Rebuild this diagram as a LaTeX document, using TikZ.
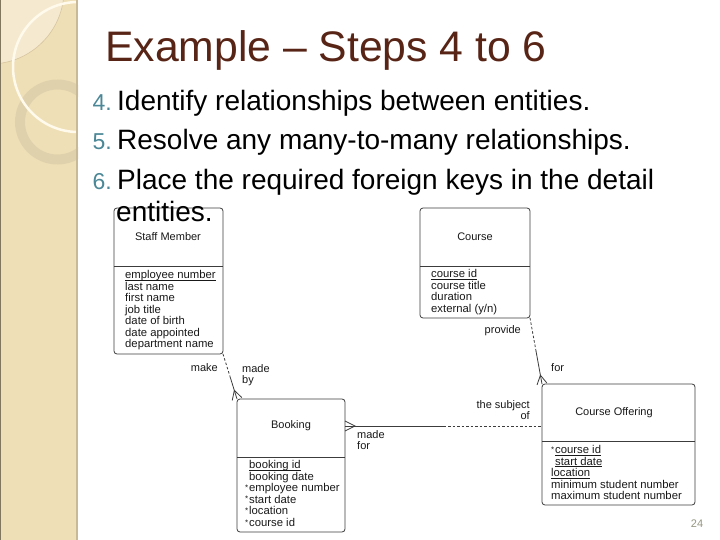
\documentclass[tikz,border=0pt]{standalone}
\usepackage{fontspec}
\setmainfont{Liberation Sans}
\usetikzlibrary{calc}
\definecolor{titlebrown}{RGB}{88,36,22}
\definecolor{numteal}{RGB}{75,135,150}
\definecolor{panelfill}{RGB}{239,223,182}
\definecolor{panellight}{RGB}{245,234,208}
\definecolor{panelring}{RGB}{222,207,172}
\definecolor{paneledge}{RGB}{200,186,150}
\definecolor{panelarc}{RGB}{255,250,236}
\definecolor{panelthin}{RGB}{214,196,156}
\definecolor{ink}{RGB}{25,25,25}
\definecolor{boxline}{RGB}{60,60,60}
\definecolor{pagenum}{RGB}{150,150,130}
\newcommand{\fkmark}{\makebox[4pt][l]{\raisebox{1.5pt}{\fontsize{8}{8}\selectfont *}}}
\newsavebox{\ulbox}
\newcommand{\keyline}[1]{\sbox{\ulbox}{#1}\rlap{\rule[-1.6pt]{\wd\ulbox}{0.6pt}}\usebox{\ulbox}}
\begin{document}
\begin{tikzpicture}[x=1pt,y=-1pt,
  entity/.style={draw=boxline, line width=0.8pt, rounded corners=3pt, inner sep=0pt, outer sep=0pt},
  ehead/.style={font=\fontsize{11}{12}\selectfont, text=ink, inner sep=0pt},
  attr/.style={font=\fontsize{11.3}{12}\selectfont, text=ink, anchor=base west, inner sep=0pt},
  rlabel/.style={font=\fontsize{11}{11.7}\selectfont, text=ink, inner sep=0pt, align=left},
  conn/.style={draw=boxline, line width=0.8pt},
  optconn/.style={conn, dash pattern=on 2.5pt off 2pt},
  divline/.style={draw=boxline, line width=0.8pt},
  bullnum/.style={font=\fontsize{23}{26}\selectfont, text=numteal, anchor=base east, inner sep=0pt},
  bulltext/.style={font=\fontsize{28}{32}\selectfont, text=black, anchor=base west, inner sep=0pt}]

\useasboundingbox (0,0) rectangle (720,540);
\fill[white] (0,0) rectangle (720,540);

% left decorative panel
\begin{scope}
  \clip (0,0) rectangle (78,540);
  \fill[panelfill] (0,0) rectangle (78,540);
  \fill[panellight] (-10,-10) circle (74pt);
  \draw[panelthin, line width=0.6pt] (-10,-10) circle (74pt);
  \draw[panelring, opacity=0.85, line width=10pt] (57.5,122) circle (37.5pt);
  \draw[panelarc, line width=2.5pt] (78,67) circle (65pt);
\end{scope}
\draw[paneledge, line width=2pt] (77,0) -- (77,540);
\draw[panelthin!60!black, line width=1pt] (0.5,0) -- (0.5,540);

% title and bullets
\node[anchor=base west, font=\fontsize{42.7}{48}\selectfont, text=titlebrown, inner sep=0pt] (title) at (105,62) {Example – Steps 4 to 6};
\node[bullnum] (n4) at (112,111) {4.};
\node[bulltext] (b4) at (117,111) {Identify relationships between entities.};
\node[bullnum] (n5) at (112,150) {5.};
\node[bulltext] (b5) at (117,150) {Resolve any many-to-many relationships.};
\node[bullnum] (n6) at (112,190) {6.};
\node[bulltext] (b6) at (117,190) {Place the required foreign keys in the detail};

% entities
\node[entity, minimum width=109pt, minimum height=146pt] (staff) at (168.5,281) {};
\node[entity, minimum width=110pt, minimum height=110pt] (course) at (475,263) {};
\node[entity, minimum width=108pt, minimum height=133pt] (booking) at (291,465.5) {};
\node[entity, minimum width=153pt, minimum height=121pt] (co) at (618.5,444.5) {};

\coordinate (divtop) at (0,266);
\coordinate (divbook) at (0,457);
\coordinate (divco) at (0,441);
\draw[divline] (staff.west |- divtop) -- (staff.east |- divtop);
\draw[divline] (course.west |- divtop) -- (course.east |- divtop);
\draw[divline] (booking.west |- divbook) -- (booking.east |- divbook);
\draw[divline] (co.west |- divco) -- (co.east |- divco);

\node[bulltext] (b6b) at (116,221.5) {entities.};

\node[ehead] (staffh) at (168,237) {Staff Member};
\node[ehead] (courseh) at (475,237) {Course};
\node[ehead] (bookingh) at (291,426) {Booking};
\node[ehead] (coh) at (614,412.5) {Course Offering};

\foreach \t [count=\i from 0] in {{\keyline{employee number}}, last name, first name, job title, date of birth, date appointed, department name}
  \node[attr] (staffa\i) at (125,278.5+11.5*\i) {\t};

\node[attr] (coursea0) at (431,277.5) {\keyline{course id}};
\node[attr] (coursea1) at (431,289.2) {course title};
\node[attr] (coursea2) at (431,300.9) {duration};
\node[attr] (coursea3) at (431,312.6) {external (y/n)};

\foreach \x/\t [count=\i from 0] in {249/{\keyline{booking id}}, 249/booking date, 245/{\fkmark employee number}, 245/{\fkmark start date}, 245/{\fkmark location}, 245/{\fkmark course id}}
  \node[attr] (booka\i) at (\x,468.5+11.6*\i) {\t};

\foreach \x/\t [count=\i from 0] in {551/{\fkmark\keyline{course id}}, 555/{\keyline{start date}}, 551/{\keyline{location}}, 551/minimum student number, 551/maximum student number}
  \node[attr] (coa\i) at (\x,453.5+11.5*\i) {\t};

% Staff Member -- Booking
\coordinate (sbmid) at ($(staff.south east)!0.5!(booking.north west)$);
\draw[optconn] (staff.south east) -- (sbmid);
\draw[conn] (sbmid) -- (booking.north west);
\coordinate (sbapex) at ($(booking.north west)!9pt!(staff.south east)$);
\coordinate (sbl) at ($(booking.north west)!5pt!90:(staff.south east)$);
\coordinate (sbr) at ($(booking.north west)!5pt!-90:(staff.south east)$);
\draw[conn] (sbl) -- (sbapex) -- (sbr);

% Course -- Course Offering
\coordinate (ccmid) at ($(course.south east)!0.5!(co.north west)$);
\draw[optconn] (course.south east) -- (ccmid);
\draw[conn] (ccmid) -- (co.north west);
\coordinate (ccapex) at ($(co.north west)!9pt!(course.south east)$);
\coordinate (ccl) at ($(co.north west)!5pt!90:(course.south east)$);
\coordinate (ccr) at ($(co.north west)!5pt!-90:(course.south east)$);
\draw[conn] (ccl) -- (ccapex) -- (ccr);

% Booking -- Course Offering
\coordinate (bcy) at (0,426);
\coordinate (bcb) at (booking.east |- bcy);
\coordinate (bcc) at (co.west |- bcy);
\coordinate (bcmid) at ($(bcb)!0.5!(bcc)$);
\draw[conn] (bcb) -- (bcmid);
\draw[optconn] (bcmid) -- (bcc);
\coordinate (bcapex) at ($(bcb)+(10,0)$);
\coordinate (bcl) at ($(bcb)+(0,-5)$);
\coordinate (bcr) at ($(bcb)+(0,5)$);
\draw[conn] (bcl) -- (bcapex) -- (bcr);

% relationship labels
\node[rlabel, anchor=east] (lmake) at (218,368) {make};
\node[rlabel, anchor=north west] (lmadeby) at (242,364) {made\\by};
\node[rlabel, anchor=north west] (lmadefor) at (357,430) {made\\for};
\node[rlabel, anchor=north east, align=right] (lsubj) at (530,400) {the subject\\of};
\node[rlabel, anchor=east] (lprov) at (521,331) {provide};
\node[rlabel, anchor=west] (lfor) at (551,368) {for};

\node[font=\fontsize{11}{13}\selectfont, text=pagenum, inner sep=0pt] (pnum) at (697,524) {24};
\end{tikzpicture}
\end{document}
